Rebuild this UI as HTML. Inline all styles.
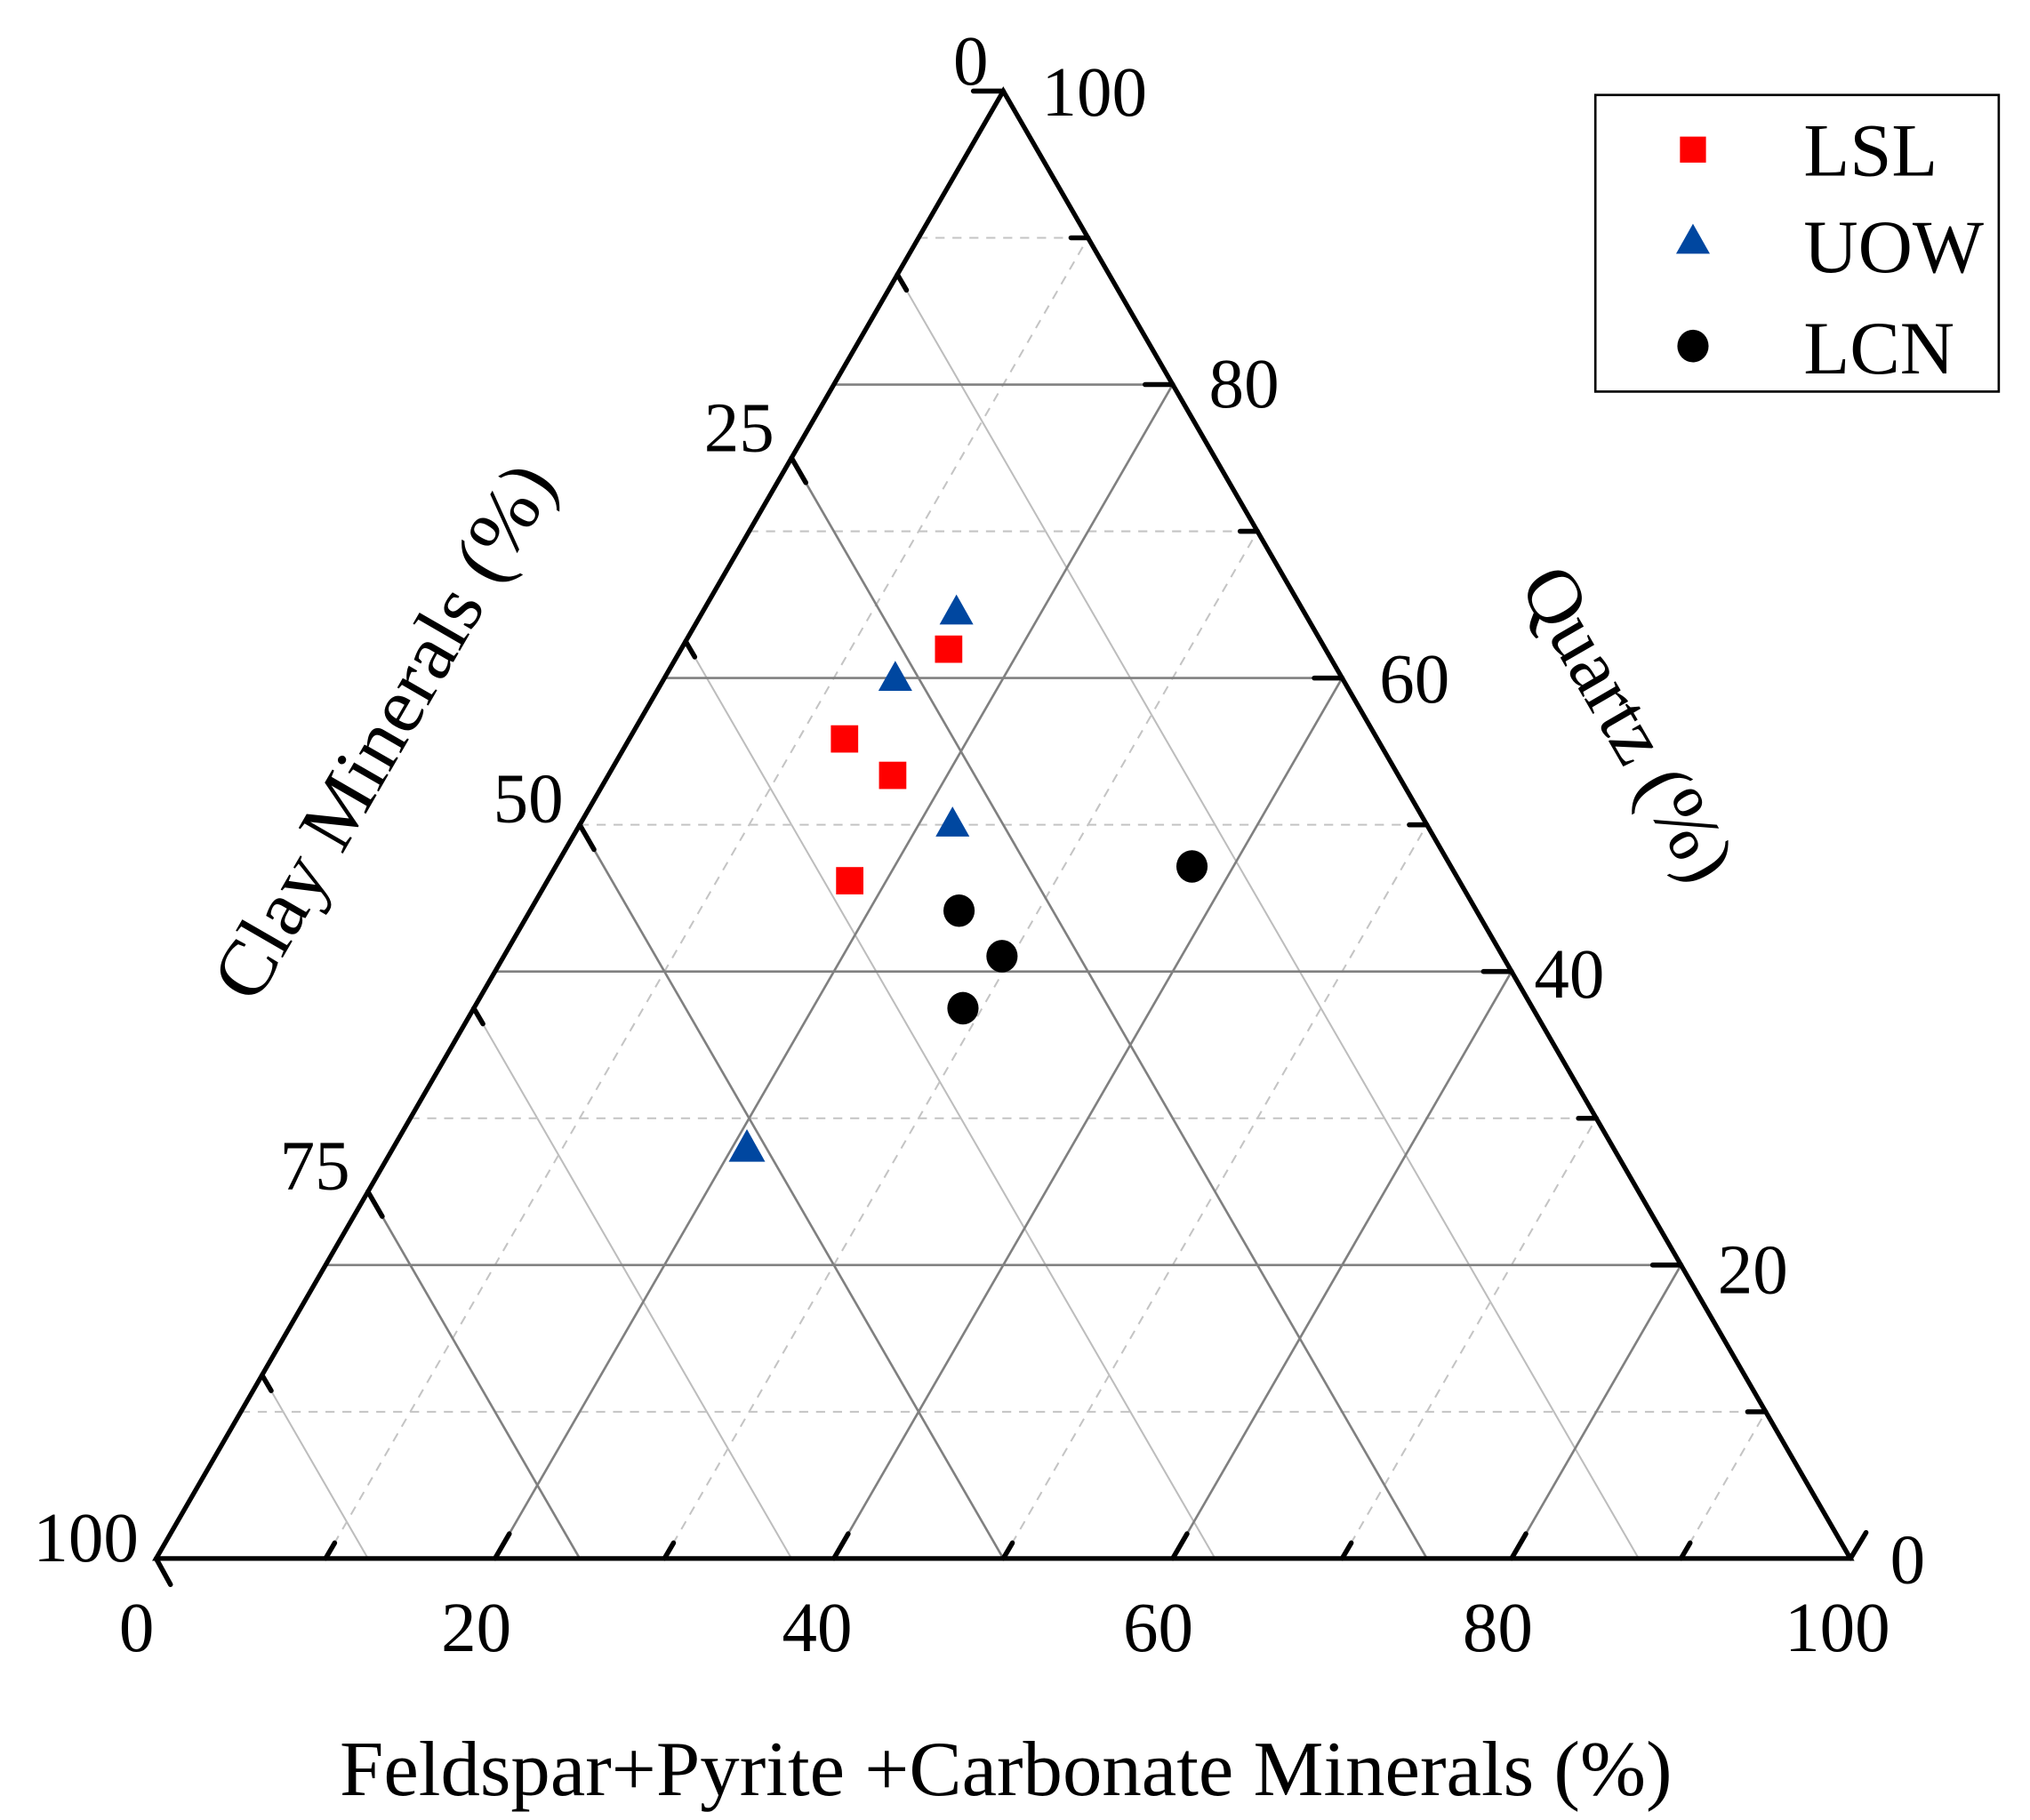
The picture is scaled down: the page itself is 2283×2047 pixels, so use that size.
<!DOCTYPE html>
<html><head><meta charset="utf-8"><style>
html,body{margin:0;padding:0;background:#fff;}
svg{display:block;}
text{font-family:"Liberation Serif",serif;fill:#000;}
</style></head><body>
<svg width="2283" height="2047" viewBox="0 0 1560 1399" preserveAspectRatio="none" xmlns="http://www.w3.org/2000/svg">
<rect width="1560" height="1399" fill="#fff"/>
<g transform="translate(-2,-2)">
<g stroke="#bdbdbd" stroke-width="1.4" fill="none">
<line x1="1261.25" y1="1200" x2="691.6" y2="213"/>
<line x1="935.75" y1="1200" x2="528.9" y2="495"/>
<line x1="610.25" y1="1200" x2="366.1" y2="777"/>
<line x1="284.75" y1="1200" x2="203.4" y2="1059"/>
</g>
<g stroke="#c4c4c4" stroke-width="1.4" stroke-dasharray="7,6" fill="none">
<line x1="187.1" y1="1087.2" x2="1358.9" y2="1087.2"/>
<line x1="317.3" y1="861.6" x2="1228.7" y2="861.6"/>
<line x1="447.5" y1="636" x2="1098.5" y2="636"/>
<line x1="577.7" y1="410.4" x2="968.3" y2="410.4"/>
<line x1="707.9" y1="184.8" x2="838.1" y2="184.8"/>
<line x1="252.2" y1="1200" x2="838.1" y2="184.8"/>
<line x1="512.6" y1="1200" x2="968.3" y2="410.4"/>
<line x1="773" y1="1200" x2="1098.5" y2="636"/>
<line x1="1033.4" y1="1200" x2="1228.7" y2="861.6"/>
<line x1="1293.8" y1="1200" x2="1358.9" y2="1087.2"/>
</g>
<g stroke="#808080" stroke-width="1.8" fill="none">
<line x1="252.2" y1="974.4" x2="1293.8" y2="974.4"/>
<line x1="382.4" y1="748.8" x2="1163.6" y2="748.8"/>
<line x1="512.6" y1="523.2" x2="1033.4" y2="523.2"/>
<line x1="642.8" y1="297.6" x2="903.2" y2="297.6"/>
<line x1="382.4" y1="1200" x2="903.2" y2="297.6"/>
<line x1="642.8" y1="1200" x2="1033.4" y2="523.2"/>
<line x1="903.2" y1="1200" x2="1163.6" y2="748.8"/>
<line x1="1163.6" y1="1200" x2="1293.8" y2="974.4"/>
<line x1="1098.5" y1="1200" x2="610.25" y2="354"/>
<line x1="773" y1="1200" x2="447.5" y2="636"/>
<line x1="447.5" y1="1200" x2="284.75" y2="918"/>
</g>
<polygon points="122,1200 1424,1200 773,72" fill="none" stroke="#000" stroke-width="3.6" stroke-linejoin="miter"/>
<g stroke="#000" stroke-width="3.8" stroke-linecap="round" fill="none">
<line x1="122" y1="1200" x2="133" y2="1220"/>
<line x1="1424" y1="1200" x2="1436" y2="1180"/>
<line x1="773" y1="72" x2="750" y2="72"/>
<line x1="252.2" y1="1200" x2="259.2" y2="1188"/>
<line x1="382.4" y1="1200" x2="393.4" y2="1181"/>
<line x1="512.6" y1="1200" x2="519.6" y2="1188"/>
<line x1="642.8" y1="1200" x2="653.8" y2="1181"/>
<line x1="773" y1="1200" x2="780" y2="1188"/>
<line x1="903.2" y1="1200" x2="914.2" y2="1181"/>
<line x1="1033.4" y1="1200" x2="1040.4" y2="1188"/>
<line x1="1163.6" y1="1200" x2="1174.6" y2="1181"/>
<line x1="1293.8" y1="1200" x2="1300.8" y2="1188"/>
<line x1="1358.9" y1="1087.2" x2="1345" y2="1087.2"/>
<line x1="1293.8" y1="974.4" x2="1272" y2="974.4"/>
<line x1="1228.7" y1="861.6" x2="1215" y2="861.6"/>
<line x1="1163.6" y1="748.8" x2="1142" y2="748.8"/>
<line x1="1098.5" y1="636" x2="1085" y2="636"/>
<line x1="1033.4" y1="523.2" x2="1012" y2="523.2"/>
<line x1="968.3" y1="410.4" x2="955" y2="410.4"/>
<line x1="903.2" y1="297.6" x2="882" y2="297.6"/>
<line x1="838.1" y1="184.8" x2="825" y2="184.8"/>
<line x1="691.6" y1="213" x2="698.6" y2="225"/>
<line x1="610.25" y1="354" x2="621.25" y2="373"/>
<line x1="528.9" y1="495" x2="535.9" y2="507"/>
<line x1="447.5" y1="636" x2="458.5" y2="655"/>
<line x1="366.1" y1="777" x2="373.1" y2="789"/>
<line x1="284.75" y1="918" x2="295.75" y2="937"/>
<line x1="203.4" y1="1059" x2="210.4" y2="1071"/>
</g>
<g font-size="54" text-anchor="middle">
<text x="107" y="1271">0</text>
<text x="368" y="1271">20</text>
<text x="630" y="1271">40</text>
<text x="892" y="1271">60</text>
<text x="1153" y="1271">80</text>
<text x="1414" y="1271">100</text>
<text x="1468" y="1219">0</text>
<text x="1349" y="996">20</text>
<text x="1208" y="769">40</text>
<text x="1089" y="542">60</text>
<text x="958" y="315">80</text>
<text x="843" y="91">100</text>
<text x="68" y="1202">100</text>
<text x="244" y="916">75</text>
<text x="408" y="634">50</text>
<text x="570" y="349">25</text>
<text x="748" y="67">0</text>
</g>
<text x="263" y="1382" font-size="60" textLength="1024" lengthAdjust="spacingAndGlyphs">Feldspar+Pyrite +Carbonate Minerals (%)</text>
<text font-size="60" text-anchor="middle" textLength="465" lengthAdjust="spacingAndGlyphs" transform="translate(314,574) rotate(-60)">Clay Minerals (%)</text>
<text font-size="60" text-anchor="middle" transform="translate(1236,568) rotate(60)">Quartz (%)</text>
<g fill="#ff0000">
<rect x="720.5" y="490.5" width="21" height="21"/>
<rect x="640.5" y="559.5" width="21" height="21"/>
<rect x="677.5" y="587.5" width="21" height="21"/>
<rect x="644.5" y="668.5" width="21" height="21"/>
</g>
<g fill="#0047a0">
<polygon points="737,459 750,482 724,482"/>
<polygon points="690,510 703,533 677,533"/>
<polygon points="734,622 747,645 721,645"/>
<polygon points="576,870 590,895 562,895"/>
</g>
<g fill="#000">
<ellipse cx="918" cy="668" rx="12" ry="12.5"/>
<ellipse cx="739" cy="702" rx="12" ry="12.5"/>
<ellipse cx="772" cy="737" rx="12" ry="12.5"/>
<ellipse cx="742" cy="777" rx="12" ry="12.5"/>
</g>
<rect x="1228" y="75" width="310" height="228" fill="#fff" stroke="#000" stroke-width="1.8"/>
<rect x="1293" y="107" width="20" height="20" fill="#ff0000"/>
<polygon points="1303,174 1316,197 1290,197" fill="#0047a0"/>
<ellipse cx="1303" cy="268" rx="12" ry="12.5" fill="#000"/>
<g font-size="58">
<text x="1388" y="137">LSL</text>
<text x="1388" y="211">UOW</text>
<text x="1388" y="289">LCN</text>
</g>
</g>
</svg>
</body></html>
